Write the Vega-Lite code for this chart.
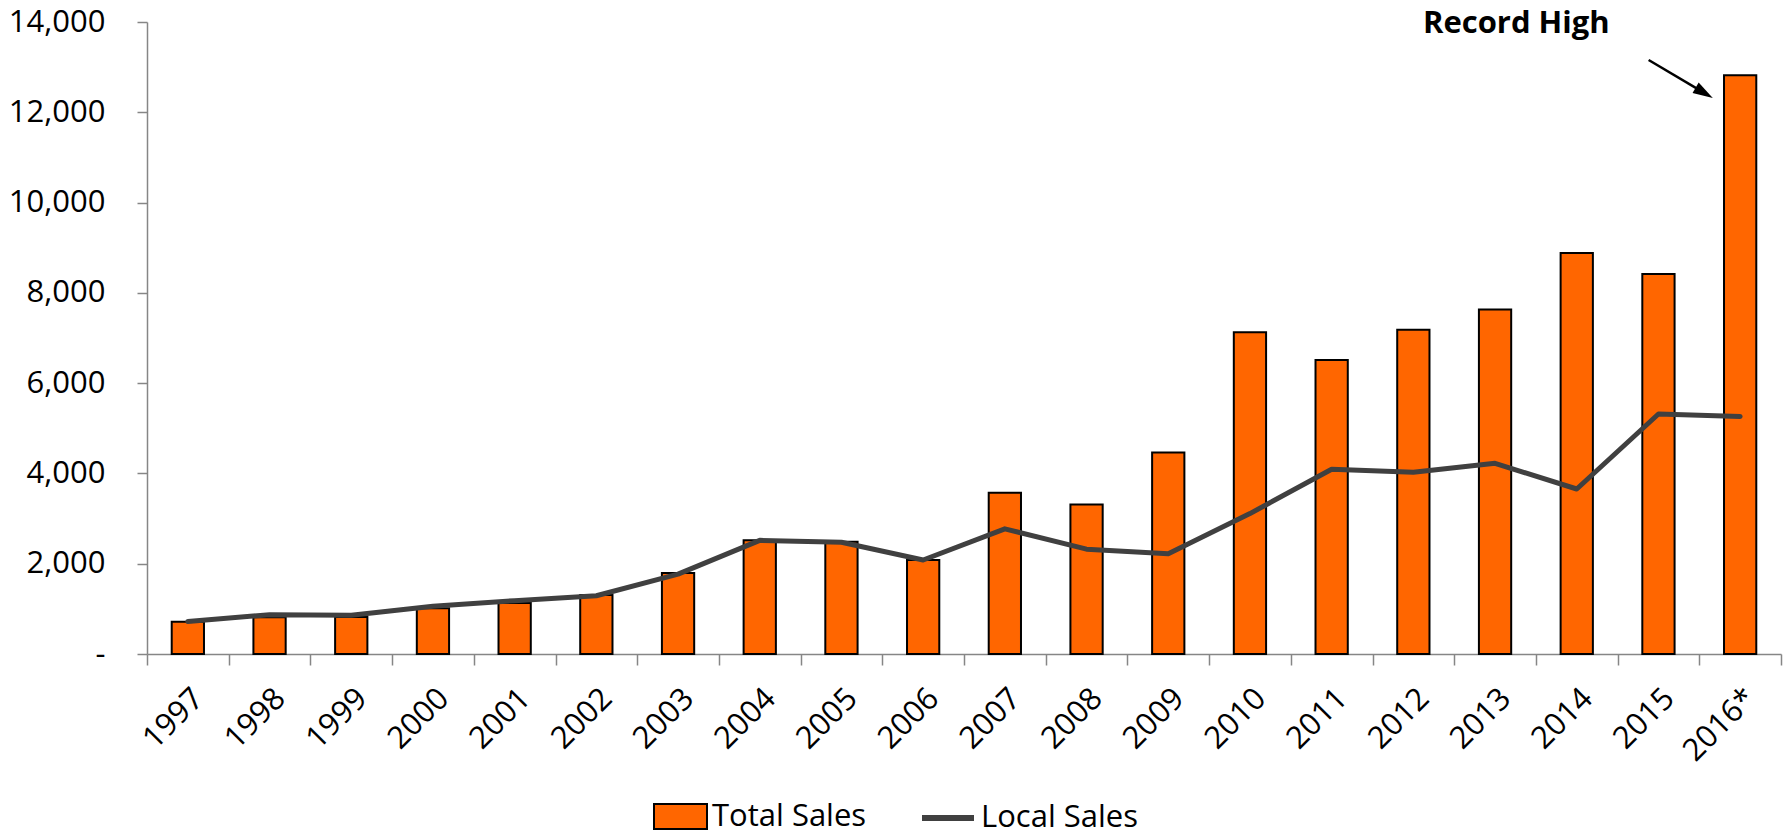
{
  "$schema": "https://vega.github.io/schema/vega-lite/v6.json",
  "width": 1634,
  "height": 632,
  "autosize": {"type": "none"},
  "padding": {"left": 147, "top": 22, "right": 10, "bottom": 181},
  "background": "white",
  "config": {
    "view": {"stroke": null},
    "font": "Open Sans",
    "axisX": {"labelAngle": -45, "labelFont": "Open Sans", "labelFontSize": 31, "labelColor": "black", "domainColor": "#868686", "domainWidth": 1.5, "tickColor": "#868686", "tickWidth": 1.5, "tickSize": 11, "tickBand": "extent", "labelPadding": 18, "grid": false},
    "axisY": {"labelFont": "Open Sans", "labelFontSize": 31, "labelColor": "black", "domainColor": "#868686", "domainWidth": 1.5, "tickColor": "#868686", "tickWidth": 1.5, "tickSize": 10, "labelPadding": 32, "grid": false}
  },
  "datasets": {
    "sales": [
      {"year": "1997", "total": 716, "local": 720},
      {"year": "1998", "total": 812, "local": 870},
      {"year": "1999", "total": 820, "local": 857},
      {"year": "2000", "total": 1012, "local": 1056},
      {"year": "2001", "total": 1130, "local": 1182},
      {"year": "2002", "total": 1307, "local": 1290},
      {"year": "2003", "total": 1795, "local": 1770},
      {"year": "2004", "total": 2518, "local": 2518},
      {"year": "2005", "total": 2489, "local": 2474},
      {"year": "2006", "total": 2083, "local": 2083},
      {"year": "2007", "total": 3570, "local": 2772},
      {"year": "2008", "total": 3310, "local": 2323},
      {"year": "2009", "total": 4465, "local": 2220},
      {"year": "2010", "total": 7130, "local": 3110},
      {"year": "2011", "total": 6515, "local": 4094},
      {"year": "2012", "total": 7180, "local": 4025},
      {"year": "2013", "total": 7630, "local": 4224},
      {"year": "2014", "total": 8885, "local": 3655},
      {"year": "2015", "total": 8420, "local": 5316},
      {"year": "2016*", "total": 12820, "local": 5262}
    ]
  },
  "layer": [
    {
      "data": {"name": "sales"},
      "layer": [
        {
          "mark": {"type": "bar", "stroke": "black", "strokeWidth": 2, "width": {"band": 0.395}},
          "encoding": {
            "x": {"field": "year", "type": "nominal", "sort": null, "title": null, "scale": {"paddingInner": 0, "paddingOuter": 0}},
            "y": {"field": "total", "type": "quantitative", "title": null, "scale": {"domain": [0, 14000], "nice": false},
                  "axis": {"values": [0, 2000, 4000, 6000, 8000, 10000, 12000, 14000], "labelExpr": "datum.value == 0 ? '-\u00a0\u00a0' : format(datum.value, ',')"}},
            "fill": {"datum": "Total Sales", "type": "nominal", "scale": {"range": ["#FF6600"]},
                     "legend": {"orient": "none", "legendX": 506, "legendY": 767, "title": null, "padding": 0, "symbolType": "M-1,-0.47H1V0.47H-1Z", "symbolSize": 2809, "symbolStrokeColor": "black", "symbolStrokeWidth": 2, "labelFont": "Open Sans", "labelFontSize": 31, "labelColor": "black", "labelOffset": 4, "labelLimit": 0}}
          }
        },
        {
          "mark": {"type": "line", "strokeWidth": 5, "strokeCap": "round", "strokeJoin": "round"},
          "encoding": {
            "x": {"field": "year", "type": "nominal", "sort": null, "title": null},
            "y": {"field": "local", "type": "quantitative", "title": null},
            "stroke": {"datum": "Local Sales", "type": "nominal", "scale": {"range": ["#404040"]},
                       "legend": {"orient": "none", "legendX": 772, "legendY": 767, "title": null, "padding": 0, "symbolType": "stroke", "symbolSize": 2704, "symbolStrokeWidth": 6, "labelFont": "Open Sans", "labelFontSize": 31, "labelColor": "black", "labelOffset": 4, "labelLimit": 0}}
          }
        }
      ]
    },
    {
      "layer": [
        {
          "data": {"values": [{"label": "Record High", "pos": 16.76, "val": 13757}]},
          "mark": {"type": "text", "font": "Open Sans", "fontSize": 31, "fontWeight": "bold", "align": "center", "baseline": "alphabetic", "color": "black"},
          "encoding": {
            "x": {"field": "pos", "type": "quantitative", "scale": {"domain": [0, 20], "nice": false, "zero": false}, "axis": null},
            "y": {"field": "val", "type": "quantitative", "title": null},
            "text": {"field": "label"}
          }
        },
        {
          "data": {"values": [{"pos": 18.38, "val": 13159, "pos2": 19.06, "val2": 12430}]},
          "mark": {"type": "rule", "color": "black", "strokeWidth": 2.5},
          "encoding": {
            "x": {"field": "pos", "type": "quantitative", "axis": null},
            "y": {"field": "val", "type": "quantitative", "title": null},
            "x2": {"field": "pos2"},
            "y2": {"field": "val2"}
          }
        },
        {
          "data": {"values": [{"pos": 19.06, "val": 12430}]},
          "mark": {"type": "point", "shape": "M1,0L-1,-0.6L-1,0.6Z", "size": 400, "filled": true, "color": "black", "opacity": 1, "angle": 30.7},
          "encoding": {
            "x": {"field": "pos", "type": "quantitative", "axis": null},
            "y": {"field": "val", "type": "quantitative", "title": null}
          }
        }
      ]
    }
  ],
  "resolve": {"scale": {"x": "independent"}}
}
